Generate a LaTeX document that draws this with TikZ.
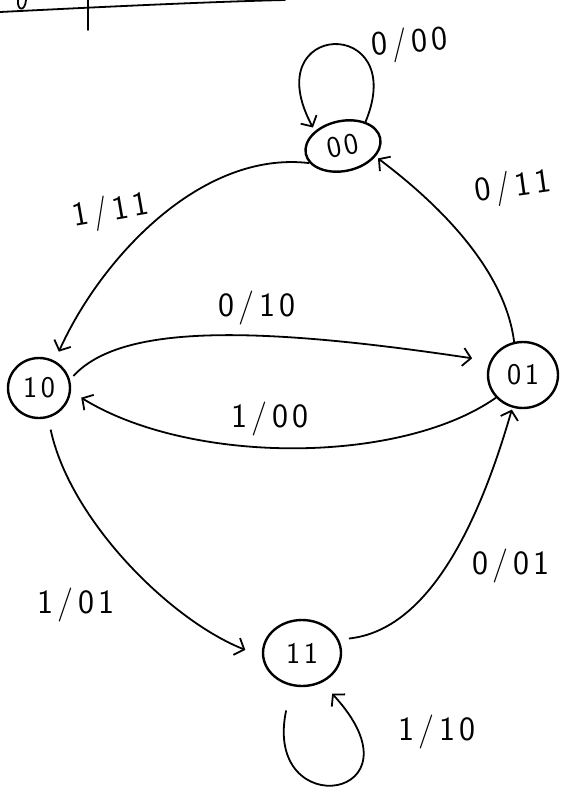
\documentclass[tikz,border=0pt]{standalone}
\usepackage{fontspec}
\setsansfont[LetterSpace=12]{Latin Modern Sans}
\usetikzlibrary{arrows.meta,shapes.geometric}
\begin{document}
\begin{tikzpicture}[x=1pt,y=-1pt,
  state/.style={draw,ellipse,line width=2.4pt,inner sep=0pt,font=\sffamily\fontsize{30}{34}\selectfont},
  trans/.style={line width=1.8pt,-{Straight Barb[length=8pt,width=18pt,line width=1.8pt]}},
  lab/.style={font=\sffamily\fontsize{34}{38}\selectfont,inner sep=0pt},
  pen/.style={line width=1.8pt,line cap=round}]
\useasboundingbox (0,0) rectangle (560,790);
% cropped strokes at the top
\draw[pen] (0,12) .. controls (80,8) and (200,2) .. (285,0);
\draw[pen] (88,0) -- (88,30);
\draw[pen] (18,0) .. controls (17,11) and (25,12) .. (26,0);
% states
\node[state,minimum width=76pt,minimum height=50pt,rotate=12] (n00) at (343,146) {00};
\node[state,minimum width=62pt,minimum height=60pt] (n10) at (39,388) {10};
\node[state,minimum width=70pt,minimum height=66pt] (n01) at (523,375) {01};
\node[state,minimum width=78pt,minimum height=66pt] (n11) at (302,653) {11};
% transitions
\draw[trans,shorten >=4pt] (n00.35) .. controls (410,15) and (255,20) .. (n00.140);
\draw[trans,shorten >=10pt] (n00.195) .. controls (200,150) and (100,260) .. (n10.60);
\draw[trans,shorten >=3pt] (n01.105) .. controls (505,270) and (440,205) .. (n00.-30);
\draw[trans,shorten <=5pt,shorten >=18pt] (n10.15) .. controls (120,325) and (250,325) .. (n01.157);
\draw[trans,shorten >=12pt] (n01.220) .. controls (400,465) and (190,465) .. (n10.-6);
\draw[trans,shorten <=12pt,shorten >=18pt] (n10.-73) .. controls (70,520) and (170,620) .. (n11.185);
\draw[trans,shorten <=10pt,shorten >=2pt] (n11.20) .. controls (430,630) and (480,520) .. (n01.252);
\draw[trans,shorten <=25pt,shorten >=15pt] (n11.252) .. controls (262,825) and (430,800) .. (n11.-56);
% labels
\node[lab,rotate=5] (l1) at (410,44) {0/00};
\node[lab,rotate=10] (l2) at (111,212) {1/11};
\node[lab,rotate=8] (l3) at (513,188) {0/11};
\node[lab] (l4) at (257,308) {0/10};
\node[lab] (l5) at (270,419) {1/00};
\node[lab] (l6) at (76,605) {1/01};
\node[lab] (l7) at (511,566) {0/01};
\node[lab] (l8) at (437,732) {1/10};
\end{tikzpicture}
\end{document}
